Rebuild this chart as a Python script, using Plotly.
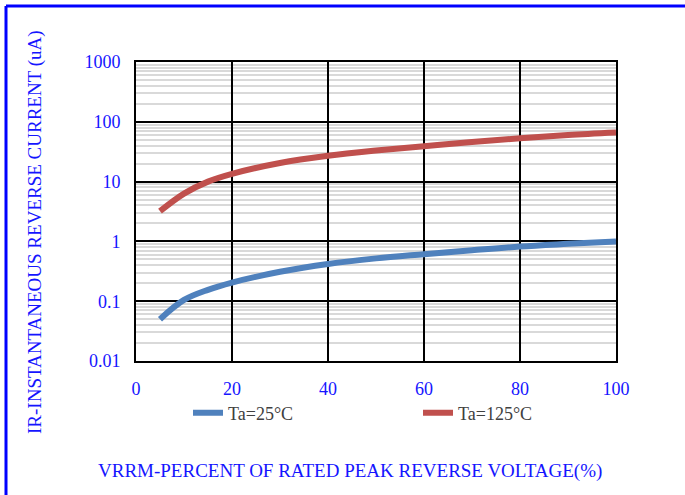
import plotly.graph_objects as go

# Data
x_25 = [5, 10, 15, 20, 30, 40, 50, 60, 70, 80, 90, 100]
ir_25 = [0.05, 0.105, 0.155, 0.205, 0.31, 0.42, 0.52, 0.61, 0.71, 0.82, 0.91, 1.0]
x_125 = [5, 10, 15, 20, 30, 40, 50, 60, 70, 80, 90, 100]
ir_125 = [3.2, 6.3, 10.0, 13.5, 20.5, 27.0, 33.0, 39.0, 46.0, 53.0, 60.0, 66.0]

x_ticks = [0, 20, 40, 60, 80, 100]
y_ticks = [0.01, 0.1, 1, 10, 100, 1000]
y_tick_text = ["0.01", "0.1", "1", "10", "100", "1000"]

series_names = ["Ta=25°C", "Ta=125°C"]
x_title = "VRRM-PERCENT OF RATED PEAK REVERSE VOLTAGE(%)"
y_title = "IR-INSTANTANEOUS REVERSE CURRENT (uA)"

W, H = 685, 495
L, R, T, B = 136, 69, 62, 134
pw, ph = W - L - R, H - T - B

def px(xp):
    return (xp - L) / pw

def py(yp):
    return (H - B - yp) / ph

FONT = "Liberation Serif, Times New Roman, serif"
BLUE_TXT = "#1515ff"

fig = go.Figure()
fig.add_trace(go.Scatter(x=x_25, y=ir_25, mode="lines", name=series_names[0],
                         line=dict(color="#4f81bd", width=6, shape="spline")))
fig.add_trace(go.Scatter(x=x_125, y=ir_125, mode="lines", name=series_names[1],
                         line=dict(color="#c0504d", width=6, shape="spline")))

fig.update_layout(
    width=W, height=H,
    margin=dict(l=L, r=R, t=T, b=B),
    paper_bgcolor="white", plot_bgcolor="white",
    font=dict(family=FONT, size=18, color=BLUE_TXT),
    showlegend=True,
    legend=dict(orientation="h", x=px(188), y=py(413), xanchor="left", yanchor="middle",
                font=dict(family=FONT, size=18, color="#404040"),
                entrywidth=185, entrywidthmode="pixels",
                bgcolor="rgba(0,0,0,0)"),
)

fig.update_xaxes(
    range=[0, 100], tickvals=x_ticks, ticktext=[str(v) for v in x_ticks],
    showgrid=True, gridcolor="black", gridwidth=1.5,
    showline=True, linecolor="black", linewidth=2, mirror=True,
    ticks="outside", ticklen=10, tickcolor="rgba(0,0,0,0)",
    zeroline=False,
    tickfont=dict(family=FONT, size=18, color=BLUE_TXT),
)
fig.update_yaxes(
    type="log", range=[-2, 3], tickvals=y_ticks, ticktext=y_tick_text,
    showgrid=True, gridcolor="black", gridwidth=1.5,
    showline=True, linecolor="black", linewidth=2, mirror=True,
    ticks="outside", ticklen=10, tickcolor="rgba(0,0,0,0)",
    minor=dict(showgrid=True, gridcolor="#d9d9d9", gridwidth=1.5, dtick="D1"),
    zeroline=False,
    tickfont=dict(family=FONT, size=18, color=BLUE_TXT),
)

fig.add_annotation(text=x_title, xref="paper", yref="paper", x=px(350), y=py(471),
                   showarrow=False, xanchor="center", yanchor="middle",
                   font=dict(family=FONT, size=19, color=BLUE_TXT))
fig.add_annotation(text=y_title, xref="paper", yref="paper", x=px(35), y=py(232),
                   showarrow=False, xanchor="center", yanchor="middle", textangle=-90,
                   font=dict(family=FONT, size=19, color=BLUE_TXT))

# blue frame (top and left edges)
fig.add_shape(type="line", xref="paper", yref="paper", x0=px(6), x1=px(690), y0=py(6), y1=py(6),
              line=dict(color="#0000ff", width=3))
fig.add_shape(type="line", xref="paper", yref="paper", x0=px(6), x1=px(6), y0=py(6), y1=py(500),
              line=dict(color="#0000ff", width=3))

fig.write_html("out.html", config={"displayModeBar": False},
               post_script="document.body.style.margin='0';document.body.style.overflow='hidden';")
